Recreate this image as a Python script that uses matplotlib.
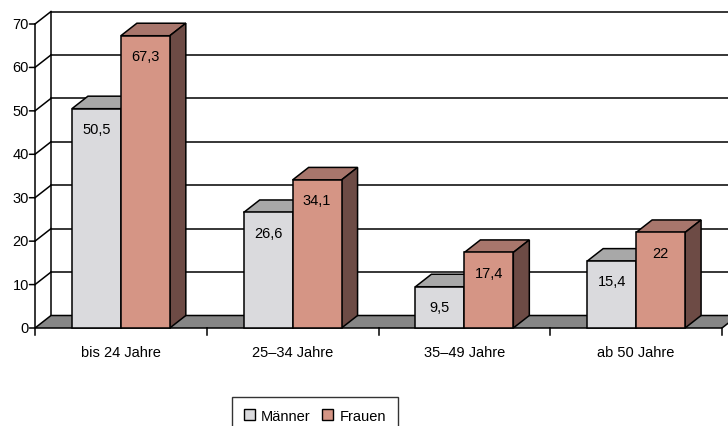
import matplotlib
matplotlib.use("Agg")
import matplotlib.pyplot as plt
from matplotlib.patches import Polygon, Rectangle
from matplotlib.lines import Line2D

plt.rcParams['font.family'] = ['Liberation Sans', 'DejaVu Sans']

# ---- data ----
categories = ["bis 24 Jahre", "25\u201334 Jahre", "35\u201349 Jahre", "ab 50 Jahre"]
maenner = [50.5, 26.6, 9.5, 15.4]
frauen = [67.3, 34.1, 17.4, 22]
series_names = ["M\u00e4nner", "Frauen"]
y_ticks = [0, 10, 20, 30, 40, 50, 60, 70]

# ---- styling ----
front_cols = ["#DADADD", "#D59585"]
top_cols = ["#A8A8A8", "#A8766C"]
side_cols = ["#8C8C8C", "#6D4B45"]
floor_col = "#868686"
fs = 10.5

W, H, DPI = 7.28, 4.27, 100
fig = plt.figure(figsize=(W, H), dpi=DPI)

# front plane of the plot area (figure fractions)
left_px, right_px, y0_px, ytop_px = 35, 722, 329, 25
ax = fig.add_axes([left_px / 728, (427 - y0_px) / 427,
                   (right_px - left_px) / 728, (y0_px - ytop_px) / 427])
n = len(categories)
ymax = y_ticks[-1]
ax.set_xlim(0, n)
ax.set_ylim(0, ymax)
ax.axis("off")

# depth offset of the 3D box, expressed in data units
px_per_x = (right_px - left_px) / n
px_per_y = (y0_px - ytop_px) / ymax
ddx = 16 / px_per_x
ddy = 12.5 / px_per_y

lw = 1.1
kw = dict(clip_on=False, linewidth=lw, edgecolor="black", joinstyle="miter")

# back wall gridlines and top edge
for t in y_ticks:
    ax.add_line(Line2D([ddx, n + ddx + 0.2], [t + ddy, t + ddy], color="black",
                       lw=lw if t else 0, clip_on=False, zorder=1))
# left wall
ax.add_line(Line2D([ddx, ddx], [ddy, ymax + ddy], color="black", lw=lw,
                   clip_on=False, zorder=1))
for t in y_ticks[1:]:
    ax.add_line(Line2D([0, ddx], [t, t + ddy], color="black", lw=lw,
                       clip_on=False, zorder=1))

# floor
ax.add_patch(Polygon([(0, 0), (n, 0), (n + ddx, ddy), (ddx, ddy)],
                     facecolor=floor_col, zorder=2, **kw))

# front value axis
ax.add_line(Line2D([0, 0], [-1.5, ymax], color="black", lw=lw, clip_on=False, zorder=6))
for t in y_ticks:
    ax.annotate("", xy=(0, t), xytext=(-4, 0), textcoords="offset points",
                arrowprops=dict(arrowstyle="-", lw=lw, color="black",
                                shrinkA=0, shrinkB=0), zorder=6)
    ax.annotate(str(t), xy=(0, t), xytext=(-4.5, 0), textcoords="offset points",
                ha="right", va="center", fontsize=fs, zorder=6)

# category ticks and labels
for i in range(1, n + 1):
    ax.add_line(Line2D([i, i], [0, -1.6], color="black", lw=lw, clip_on=False, zorder=6))
for i, c in enumerate(categories):
    ax.text(i + 0.5, -5.5, c, ha="center", va="center", fontsize=fs)

# bars
bw = 0.285
gap = (1 - 2 * bw) / 2
for s, vals in enumerate([maenner, frauen]):
    xs = [i + gap + s * bw for i in range(n)]
    ax.bar(xs, vals, width=bw, align="edge", color=front_cols[s],
           edgecolor="black", linewidth=lw, zorder=4 + s * 2, clip_on=False)
    for x, v in zip(xs, vals):
        ax.add_patch(Polygon([(x, v), (x + bw, v), (x + bw + ddx, v + ddy), (x + ddx, v + ddy)],
                             facecolor=top_cols[s], zorder=3 + s * 2, **kw))
        ax.add_patch(Polygon([(x + bw, 0), (x + bw + ddx, ddy), (x + bw + ddx, v + ddy), (x + bw, v)],
                             facecolor=side_cols[s], zorder=3 + s * 2, **kw))
        lbl = ("%g" % v).replace(".", ",")
        ax.annotate(lbl, xy=(x + bw / 2, v), xytext=(0, -14.5), textcoords="offset points",
                    ha="center", va="center", fontsize=fs, zorder=10)

# legend (box runs past the lower edge of the figure)
leg = fig.legend(handles=[Rectangle((0, 0), 1, 1, facecolor=front_cols[k], edgecolor="black", lw=1)
                          for k in range(2)],
                 labels=series_names, loc="upper left", bbox_to_anchor=(232 / 728, 1 - 398 / 427),
                 ncol=2, frameon=True, fancybox=False, edgecolor="black", fontsize=fs,
                 handlelength=0.75, handleheight=0.75, handletextpad=0.45, columnspacing=0.8,
                 borderpad=0.8, borderaxespad=0)
leg.get_frame().set_linewidth(1.0)

fig.savefig("out.png", dpi=DPI)
